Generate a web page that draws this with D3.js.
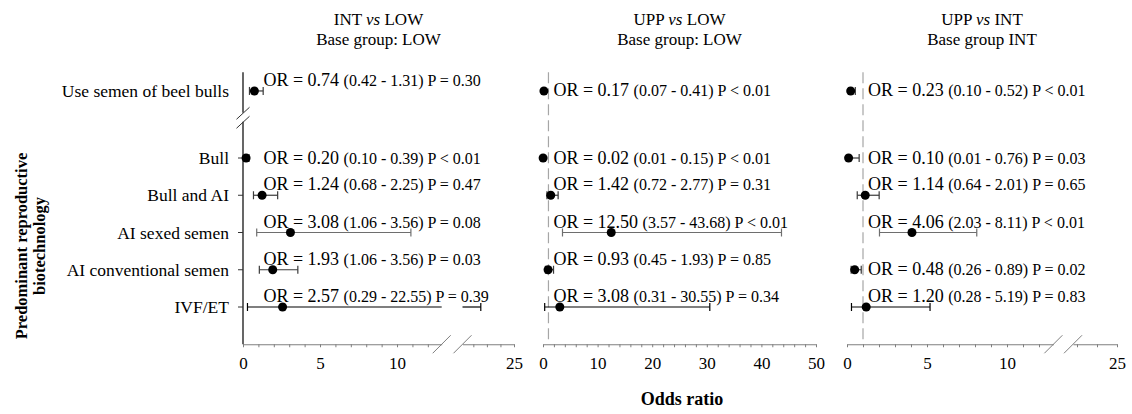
<!DOCTYPE html>
<html lang="en">
<head>
<meta charset="UTF-8">
<title>Odds ratio by reproductive biotechnology</title>
<script src="https://cdn.jsdelivr.net/npm/d3@7"></script>
<style>
  body { margin: 0; background: #fff; }
  svg { display: block; font-family: 'Liberation Serif', 'Times New Roman', serif; }
</style>
</head>
<body>
<svg id="chart" width="1132" height="414"></svg>
<script>
// rows; the first one sits above the break of the y axis
const categories = ["Use semen of beel bulls", "Bull", "Bull and AI", "AI sexed semen", "AI conventional semen", "IVF/ET"];

// INT vs LOW
const orIntLow = [0.74, 0.20, 1.24, 3.08, 1.93, 2.57];
const loIntLow = [0.42, 0.10, 0.68, 1.06, 1.06, 0.29];
const hiIntLow = [1.31, 0.39, 2.25, 3.56, 3.56, 22.55];
const pIntLow  = ["= 0.30", "< 0.01", "= 0.47", "= 0.08", "= 0.03", "= 0.39"];
// whisker drawn for AI sexed semen is wider than the printed interval
const barLoIntLow = [0.42, 0.10, 0.68, 0.89, 1.06, 0.29];
const barHiIntLow = [1.31, 0.39, 2.25, 10.9, 3.56, 22.55];

// UPP vs LOW
const orUppLow = [0.17, 0.02, 1.42, 12.50, 0.93, 3.08];
const loUppLow = [0.07, 0.01, 0.72, 3.57, 0.45, 0.31];
const hiUppLow = [0.41, 0.15, 2.77, 43.68, 1.93, 30.55];
const pUppLow  = ["< 0.01", "< 0.01", "= 0.31", "< 0.01", "= 0.85", "= 0.34"];

// UPP vs INT
const orUppInt = [0.23, 0.10, 1.14, 4.06, 0.48, 1.20];
const loUppInt = [0.10, 0.01, 0.64, 2.03, 0.26, 0.28];
const hiUppInt = [0.52, 0.76, 2.01, 8.11, 0.89, 5.19];
const pUppInt  = ["< 0.01", "= 0.03", "= 0.65", "< 0.01", "= 0.02", "= 0.83"];

// tick labels
const tickLabelsBroken = [0, 5, 10, 25];
const tickLabels50 = [0, 10, 20, 30, 40, 50];

const panels = [
  { a: "INT", b: "LOW", base: "Base group: LOW",
    or: orIntLow, lo: loIntLow, hi: hiIntLow, p: pIntLow, barLo: barLoIntLow, barHi: barHiIntLow,
    segs: [{ domain: [0, 12.9], range: [243, 441.7], ticks: d3.range(0, 13) },
           { domain: [21.2, 25], range: [462.5, 514], ticks: d3.range(22, 26) }],
    labels: tickLabelsBroken, solidAxis: true },
  { a: "UPP", b: "LOW", base: "Base group: LOW",
    or: orUppLow, lo: loUppLow, hi: hiUppLow, p: pUppLow, barLo: loUppLow, barHi: hiUppLow,
    segs: [{ domain: [0, 50], range: [543, 816], ticks: d3.range(0, 51, 2) }],
    labels: tickLabels50, solidAxis: false },
  { a: "UPP", b: "INT", base: "Base group INT",
    or: orUppInt, lo: loUppInt, hi: hiUppInt, p: pUppInt, barLo: loUppInt, barHi: hiUppInt,
    segs: [{ domain: [0, 12.9], range: [847, 1053.4], ticks: d3.range(0, 13) },
           { domain: [22.8, 25], range: [1073, 1117], ticks: [23, 24, 25] }],
    labels: tickLabelsBroken, solidAxis: false }
];

const svg = d3.select("#chart");
const fmt = d3.format(".2f");

// row slots: main rows 0..4, the beef-bull row is pulled up above the break
const slot = i => i === 0 ? -1.8 : i - 1;
const y = d3.scaleLinear().domain([0, 4]).range([158, 307]);
const axisY = y(5);
const topY = y(-2.3);

const axisGrey = "#7f7f7f";
const barColor = c => c === "IVF/ET" ? "#000" : (c === "AI sexed semen" ? "#6e6e6e" : "#3a3a3a");

panels.forEach(pn => {
  pn.segs.forEach(s => s.scale = d3.scaleLinear().domain(s.domain).range(s.range));
  const x = v => {
    const s = pn.segs.find(s => v <= s.domain[1]) || pn.segs[pn.segs.length - 1];
    return s.scale(v);
  };
  const x0 = pn.segs[0].range[0];
  const x1 = pn.segs[pn.segs.length - 1].range[1];
  const g = svg.append("g");

  // title
  const t = g.append("text").attr("x", (x0 + x1) / 2).attr("y", 25)
    .attr("text-anchor", "middle").style("font-size", "17px");
  t.append("tspan").text(pn.a + " ");
  t.append("tspan").style("font-style", "italic").text("vs");
  t.append("tspan").text(" " + pn.b);
  g.append("text").attr("x", (x0 + x1) / 2).attr("y", 45)
    .attr("text-anchor", "middle").style("font-size", "17px").text(pn.base);

  // x axis, one piece per segment
  pn.segs.forEach(s => {
    const ax = g.append("g").attr("transform", `translate(0,${axisY})`)
      .call(d3.axisBottom(s.scale).tickValues(s.ticks).tickSize(3).tickSizeOuter(0).tickPadding(10)
        .tickFormat(d => pn.labels.includes(d) ? d : ""));
    ax.select(".domain").attr("stroke", axisGrey).attr("stroke-width", 1.2);
    ax.selectAll(".tick line").attr("stroke", axisGrey);
    ax.selectAll(".tick text").attr("fill", "#000")
      .style("font-family", "'Liberation Serif', serif").style("font-size", "17px");
  });
  if (pn.segs.length > 1) {
    [pn.segs[0].range[1], pn.segs[1].range[0]].forEach(bx => {
      g.append("line").attr("x1", bx - 9).attr("y1", axisY + 9).attr("x2", bx + 9).attr("y2", axisY - 9)
        .attr("stroke", axisGrey).attr("stroke-width", 1);
    });
  }

  // y axis (first panel) or dashed reference line at OR = 1
  if (pn.solidAxis) {
    const yb = y(-1.08);
    g.append("line").attr("x1", x0).attr("x2", x0).attr("y1", topY).attr("y2", yb - 5)
      .attr("stroke", "#000").attr("stroke-width", 1.2);
    g.append("line").attr("x1", x0).attr("x2", x0).attr("y1", yb + 4).attr("y2", axisY)
      .attr("stroke", "#000").attr("stroke-width", 1.2);
    [yb - 4.5, yb + 4.5].forEach(by => {
      g.append("line").attr("x1", x0 - 6.5).attr("y1", by + 6).attr("x2", x0 + 6.5).attr("y2", by - 6)
        .attr("stroke", "#333").attr("stroke-width", 1);
    });
    categories.slice(1).forEach((c, i) => {
      g.append("line").attr("x1", x0 - 5).attr("x2", x0).attr("y1", y(i)).attr("y2", y(i))
        .attr("stroke", "#333");
    });
    categories.forEach((c, i) => {
      g.append("text").attr("x", 229).attr("y", y(slot(i))).attr("dy", "0.35em")
        .attr("text-anchor", "end").style("font-size", "17.5px").text(c);
    });
  } else {
    g.append("line").attr("x1", x(1)).attr("x2", x(1)).attr("y1", topY).attr("y2", axisY)
      .attr("stroke", "#a6a6a6").attr("stroke-width", 1.2).attr("stroke-dasharray", "11,5");
  }

  // whiskers, split across the axis break
  categories.forEach((c, i) => {
    const cy = y(slot(i));
    const lo = pn.barLo[i], hi = pn.barHi[i];
    pn.segs.forEach(s => {
      const a = Math.max(lo, s.domain[0]), b = Math.min(hi, s.domain[1]);
      if (a >= b) return;
      g.append("line").attr("x1", s.scale(a)).attr("x2", s.scale(b)).attr("y1", cy).attr("y2", cy)
        .attr("stroke", barColor(c)).attr("stroke-width", 1.2);
    });
    [lo, hi].forEach(v => {
      g.append("line").attr("x1", x(v)).attr("x2", x(v)).attr("y1", cy - 4).attr("y2", cy + 4)
        .attr("stroke", barColor(c)).attr("stroke-width", 1.2);
    });
    g.append("circle").attr("cx", x(pn.or[i])).attr("cy", cy).attr("r", 4.5).attr("fill", "#000");

    // label: lifted above the whisker when the whisker runs under it
    const tx = x(1) + 5;
    const raised = x(hi) > tx - 2;
    const lab = g.append("text").attr("x", tx).attr("y", raised ? cy - 5 : cy + 5.5);
    lab.append("tspan").style("font-size", "18px").text("OR = " + fmt(pn.or[i]) + " ");
    lab.append("tspan").style("font-size", "16px")
      .text("(" + fmt(pn.lo[i]) + " - " + fmt(pn.hi[i]) + ") P " + pn.p[i]);
  });
});

// axis titles
svg.append("text").attr("x", 682).attr("y", 405).attr("text-anchor", "middle")
  .style("font-size", "18px").style("font-weight", "bold").text("Odds ratio");
const yt = svg.append("text").attr("transform", "translate(0,246) rotate(-90)")
  .attr("text-anchor", "middle").style("font-size", "16.5px").style("font-weight", "bold");
yt.append("tspan").attr("x", 0).attr("y", 27).text("Predominant reproductive");
yt.append("tspan").attr("x", 0).attr("y", 45).text("biotechnology");
</script>
</body>
</html>
